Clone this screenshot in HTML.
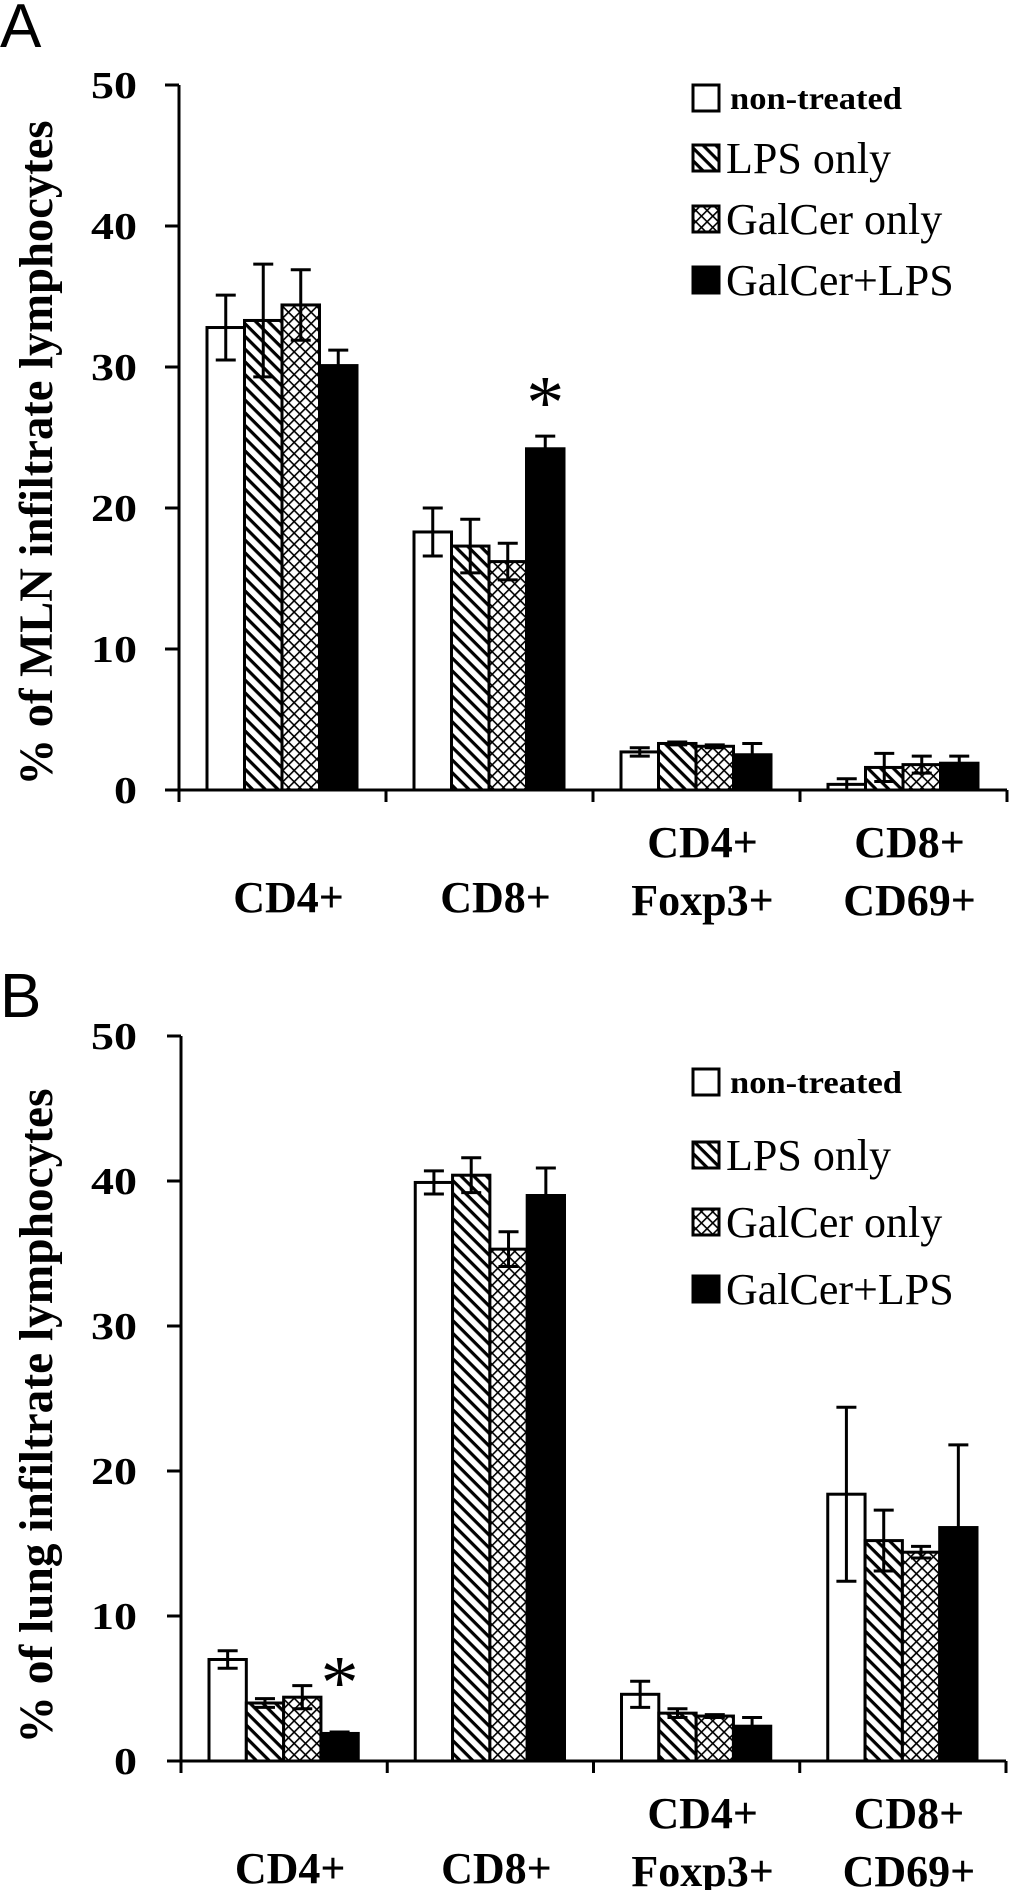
<!DOCTYPE html>
<html><head><meta charset="utf-8"><style>
html,body{margin:0;padding:0;background:#fff;}
svg{display:block;}
text{font-family:"Liberation Serif",serif;fill:#000;}
</style></head><body>
<svg id="chart" width="1010" height="1890" viewBox="0 0 1010 1890" xmlns="http://www.w3.org/2000/svg">
<defs>
<pattern id="hatch" patternUnits="userSpaceOnUse" width="9" height="9" patternTransform="rotate(45)">
<rect width="9" height="9" fill="#fff"/><rect x="0" y="0" width="9" height="3.2" fill="#000"/>
</pattern>
<pattern id="cross" patternUnits="userSpaceOnUse" width="8" height="8" patternTransform="rotate(45)">
<rect width="8" height="8" fill="#fff"/><rect x="0" y="0" width="8" height="1.6" fill="#000"/><rect x="0" y="0" width="1.6" height="8" fill="#000"/>
</pattern>
</defs>
<g id="layer"></g>
</svg>
<script>
const categories = ["CD4+", "CD8+", "CD4+|Foxp3+", "CD8+|CD69+"];
const seriesNames = ["non-treated", "LPS only", "GalCer only", "GalCer+LPS"];
const yTicks = [0, 10, 20, 30, 40, 50];
const mlnNonTreated = [32.8, 18.3, 2.7, 0.4];
const mlnLps = [33.3, 17.3, 3.3, 1.6];
const mlnGalCer = [34.4, 16.2, 3.1, 1.8];
const mlnGalCerLps = [30.1, 24.2, 2.5, 1.9];
const mlnErrNonTreated = [2.3, 1.7, 0.3, 0.4];
const mlnErrLps = [4.0, 1.9, 0.1, 1.0];
const mlnErrGalCer = [2.5, 1.3, 0.1, 0.6];
const mlnErrGalCerLps = [1.1, 0.9, 0.8, 0.5];
const lungNonTreated = [7.0, 39.9, 4.6, 18.4];
const lungLps = [4.0, 40.4, 3.3, 15.2];
const lungGalCer = [4.4, 35.3, 3.1, 14.4];
const lungGalCerLps = [1.9, 39.0, 2.4, 16.1];
const lungErrNonTreated = [0.6, 0.8, 0.9, 6.0];
const lungErrLps = [0.3, 1.2, 0.3, 2.1];
const lungErrGalCer = [0.8, 1.2, 0.1, 0.4];
const lungErrGalCerLps = [0.1, 1.9, 0.6, 5.7];
const mlnStar = [1];
const lungStar = [0];

const NS = "http://www.w3.org/2000/svg";
const layer = document.getElementById("layer");
const fills = ["#fff", "url(#hatch)", "url(#cross)", "#000"];

function mk(tag, attrs, parent) {
  const e = document.createElementNS(NS, tag);
  for (const k in attrs) e.setAttribute(k, attrs[k]);
  (parent || layer).appendChild(e);
  return e;
}

function panel(cfg) {
  const g = mk("g", {});
  
  
  const x0 = cfg.x0, x1 = cfg.x1, y0 = cfg.y0, y50 = cfg.y50;
  const yScale = v => y0 - (v / 50) * (y0 - y50);
  const catW = (x1 - x0) / categories.length;
  const barW = (catW - 57) / 4;
  const xScale = (ci, si) => x0 + ci * catW + 28 + si * barW;

  const L = mk("text", {x: 0, y: cfg.letterY, "font-size": 62, style: "font-family:'Liberation Sans',sans-serif"}, g);
  L.textContent = cfg.letter;
  
  

  const t = mk("text", {x: 0, y: 0, "font-size": 48, "font-weight": "bold", "text-anchor": "middle",
    transform: `translate(${cfg.titleX},${cfg.titleY}) rotate(-90)`, textLength: cfg.titleLen, lengthAdjust: "spacingAndGlyphs"}, g);
  t.textContent = cfg.title;
  
  

  const vals = cfg.values, errs = cfg.errors;
  for (let si = 0; si < 4; si++) {
    for (let ci = 0; ci < categories.length; ci++) {
      const v = vals[si][ci], e = errs[si][ci];
      const bx = xScale(ci, si), by = yScale(v);
      const r = mk("rect", {x: bx, y: by, width: barW, height: y0 - by, fill: fills[si], stroke: "#000", "stroke-width": 3}, g);
      
      
      const cx = bx + barW / 2, yt = yScale(v + e), yb = yScale(Math.max(0, v - e));
      const eb = mk("path", {d: `M${cx},${yt}V${yb}M${cx-10},${yt}H${cx+10}M${cx-10},${yb}H${cx+10}`, stroke: "#000", "stroke-width": 3, fill: "none"}, g);
      
      
    }
  }
  cfg.stars.forEach(ci => {
    const cx = xScale(ci, 3) + barW / 2;
    const top = yScale(vals[3][ci] + errs[3][ci]);
    const s = mk("text", {x: cx, y: top - cfg.starGap, "font-size": 76, "text-anchor": "middle"}, g);
    s.textContent = "*";
    
    
  });

  const ax = mk("path", {d: `M${x0},${y50}V${y0}M${x0-14},${y0}H${x1}`, stroke: "#000", "stroke-width": 3, fill: "none"}, g);
  
  
  yTicks.forEach(tv => {
    const ty = yScale(tv);
    const tk = mk("line", {x1: x0 - 14, x2: x0, y1: ty, y2: ty, stroke: "#000", "stroke-width": 3}, g);
    
    
    const txt = String(tv);
    const tl = mk("text", {x: 137, y: ty + 13, "font-size": 38, "font-weight": "bold", "text-anchor": "end",
      textLength: txt.length * 23, lengthAdjust: "spacingAndGlyphs"}, g);
    tl.textContent = txt;
    
    
  });
  for (let ci = 0; ci <= categories.length; ci++) {
    const tx = x0 + ci * catW;
    const tk = mk("line", {x1: tx, x2: tx, y1: y0, y2: y0 + 12, stroke: "#000", "stroke-width": 3}, g);
    
    
  }
  categories.forEach((c, ci) => {
    const parts = c.split("|");
    const cx = x0 + ci * catW + catW / 2 + 6;
    const lines = parts.length === 1 ? [[parts[0], y0 + 122]] : [[parts[0], y0 + 67], [parts[1], y0 + 125]];
    lines.forEach(([txt, yy]) => {
      const tl = mk("text", {x: cx, y: yy, "font-size": 44, "font-weight": "bold", "text-anchor": "middle"}, g);
      tl.textContent = txt;
      
      
    });
  });

  cfg.legendY.forEach((ly, si) => {
    const sw = mk("rect", {x: 693, y: ly - 13, width: 26, height: 26, fill: fills[si], stroke: "#000", "stroke-width": 3}, g);
    
    
    const bold = si === 0;
    const attrs = {x: si === 0 ? 730 : 726, y: ly + (bold ? 11 : 15), "font-size": bold ? 32 : 44};
    if (bold) { attrs["font-weight"] = "bold"; attrs.textLength = 172; attrs.lengthAdjust = "spacingAndGlyphs"; }
    const lt = mk("text", attrs, g);
    lt.textContent = seriesNames[si];
    
    
  });
}

panel({
  name: "panel-a-mln", letter: "A", letterY: 47,
  x0: 179, x1: 1007, y0: 790, y50: 85,
  title: "% of MLN infiltrate lymphocytes", titleX: 52, titleY: 453, titleLen: 665,
  values: [mlnNonTreated, mlnLps, mlnGalCer, mlnGalCerLps],
  errors: [mlnErrNonTreated, mlnErrLps, mlnErrGalCer, mlnErrGalCerLps],
  stars: mlnStar, starGap: 8, legendY: [98, 158, 219, 280]
});
panel({
  name: "panel-b-lung", letter: "B", letterY: 1017,
  x0: 181, x1: 1006, y0: 1761, y50: 1036,
  title: "% of lung infiltrate lymphocytes", titleX: 52, titleY: 1416, titleLen: 655,
  values: [lungNonTreated, lungLps, lungGalCer, lungGalCerLps],
  errors: [lungErrNonTreated, lungErrLps, lungErrGalCer, lungErrGalCerLps],
  stars: lungStar, starGap: 24, legendY: [1082, 1155, 1222, 1289]
});
</script>
</body></html>
